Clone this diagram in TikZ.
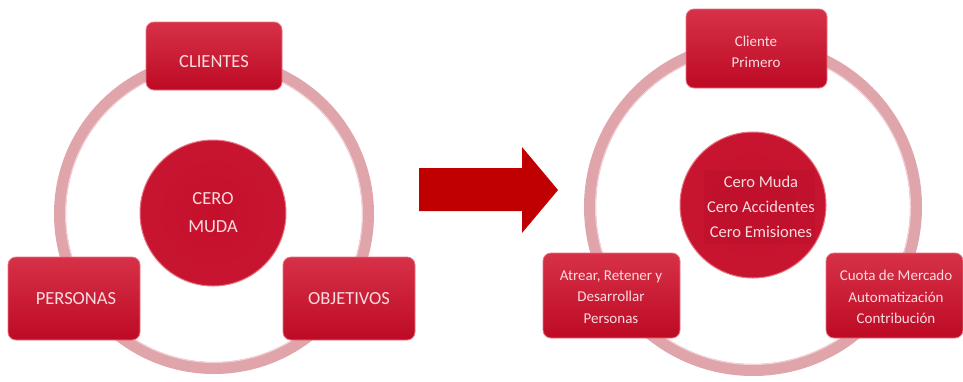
\documentclass[tikz,border=0pt]{standalone}
\usepackage{fontspec}
\setmainfont{Carlito}
\definecolor{boxtop}{HTML}{D63148}
\definecolor{boxbot}{HTML}{BE0A24}
\definecolor{boxedge}{HTML}{E77483}
\definecolor{ringc}{HTML}{E0A4AB}
\definecolor{ringlight}{HTML}{F3D3D7}
\definecolor{txt}{HTML}{F9DCE0}
\definecolor{ballc}{HTML}{C5102C}
\definecolor{arrowc}{HTML}{C00000}
\tikzset{
  redbox/.style={rounded corners=8pt, top color=boxtop, bottom color=boxbot, draw=boxedge, line width=0.8pt},
  ball/.style={circle, inner sep=0pt, minimum size=146pt, inner color=ballc, outer color=ballc!85!boxtop, draw=boxedge, line width=1pt},
  ring/.style={draw=ringc, line width=12pt},
  ringhi/.style={draw=ringlight, line width=1pt},
  lbl/.style={text=txt, align=center, inner sep=0pt},
  capsfont/.style={font=\fontsize{18.5}{28}\selectfont},
  smallfont/.style={font=\fontsize{15}{21.5}\selectfont},
  midfont/.style={font=\fontsize{16.5}{25}\selectfont}
}
\begin{document}
\begin{tikzpicture}[x=1pt,y=-1pt]
\useasboundingbox (0,0) rectangle (963,381);
% ---------- left diagram ----------
\coordinate (lc) at (214,214);
\draw[ring] (lc) circle[radius=154];
\draw[ringhi] (lc) circle[radius=148.5];
\node[ball] (lball) at (213,213) {};
\node[lbl, capsfont] (lballtxt) at (lball) {CERO\\MUDA};
\draw[redbox] (146,22) rectangle (282,90);
\node[lbl, capsfont] (clientes) at (214,62) {CLIENTES};
\draw[redbox] (8,257) rectangle (140,340);
\node[lbl, capsfont] (personas) at (76,299) {PERSONAS};
\draw[redbox] (283,257) rectangle (415,340);
\node[lbl, capsfont] (objetivos) at (349,299) {OBJETIVOS};
% ---------- arrow ----------
\fill[arrowc] (419,168) -- (522,168) -- (522,147) -- (558,190) -- (522,233) -- (522,211) -- (419,211) -- cycle;
% ---------- right diagram ----------
\coordinate (rc) at (753,207);
\draw[ring] (rc) circle[radius=163];
\draw[ringhi] (rc) circle[radius=157.5];
\node[ball] (rball) at (753,205) {};
\fill[ballc!92!black, opacity=0.3] (704,170) rectangle (815,244);
\node[lbl, midfont] (rballtxt) at (761,207) {Cero Muda\\Cero Accidentes\\Cero Emisiones};
\draw[redbox] (686,9) rectangle (827,88);
\node[lbl, smallfont] (cliente) at (756,52) {Cliente\\Primero};
\draw[redbox] (543,253) rectangle (680,338);
\node[lbl, smallfont] (atrear) at (611,297) {Atrear, Retener y\\Desarrollar\\Personas};
\draw[redbox] (826,253) rectangle (963,338);
\node[lbl, smallfont] (cuota) at (896,297) {Cuota de Mercado\\Automatización\\Contribución};
\end{tikzpicture}
\end{document}
